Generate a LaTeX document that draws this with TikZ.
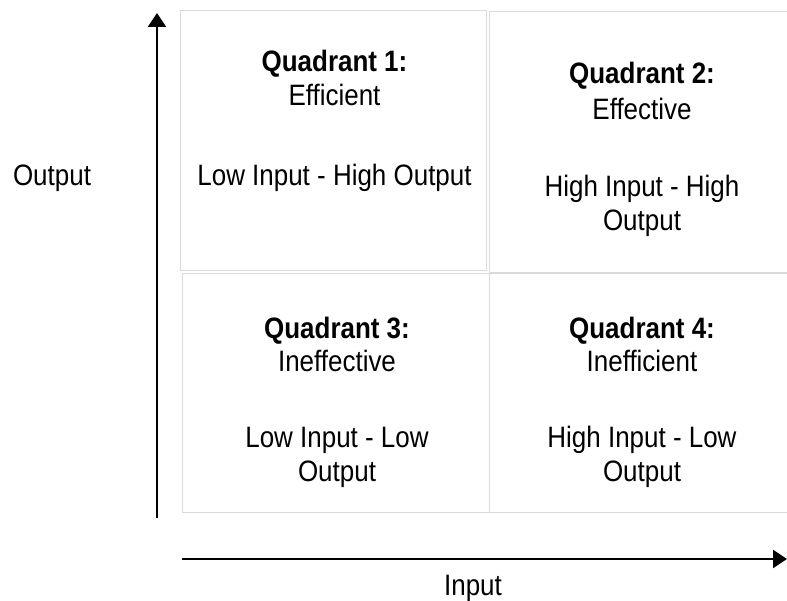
\documentclass[tikz,border=0pt]{standalone}
\usepackage{fontspec}
\setmainfont[FakeStretch=0.88]{Liberation Sans}
\usetikzlibrary{arrows.meta}
\begin{document}
\begin{tikzpicture}[x=1bp,y=-1bp,
  quad/.style={draw=black!15,line width=0.8bp,rectangle,inner sep=0pt},
  txt/.style={anchor=base,inner sep=0pt,font=\fontsize{29.5bp}{34bp}\selectfont},
  ttl/.style={txt,font=\fontsize{29.5bp}{34bp}\selectfont\bfseries},
  axis/.style={line width=2bp,-{Triangle[length=14bp,width=18bp]}}]
\useasboundingbox (0,0) rectangle (787,601);
% quadrant boxes
\node[quad,minimum width=306bp,minimum height=260bp] (q1) at (333,140) {};
\node[quad,minimum width=306bp,minimum height=261bp] (q2) at (642,141.5) {};
\node[quad,minimum width=307bp,minimum height=239bp] (q3) at (335.5,392.5) {};
\node[quad,minimum width=306bp,minimum height=239bp] (q4) at (642,392.5) {};
% quadrant 1
\node[ttl] (q1t) at (334.5,72) {Quadrant 1:};
\node[txt] (q1s) at (334.5,106) {Efficient};
\node[txt] (q1d) at (334.5,186) {Low Input - High Output};
% quadrant 2
\node[ttl] (q2t) at (642,84) {Quadrant 2:};
\node[txt] (q2s) at (642,120) {Effective};
\node[txt] (q2d) at (642,197) {High Input - High};
\node[txt] (q2e) at (642,230.5) {Output};
% quadrant 3
\node[ttl] (q3t) at (337,338.5) {Quadrant 3:};
\node[txt] (q3s) at (337,371.5) {Ineffective};
\node[txt] (q3d) at (337,447.5) {Low Input - Low};
\node[txt] (q3e) at (337,481.5) {Output};
% quadrant 4
\node[ttl] (q4t) at (642,338.5) {Quadrant 4:};
\node[txt] (q4s) at (642,371.5) {Inefficient};
\node[txt] (q4d) at (642,447.5) {High Input - Low};
\node[txt] (q4e) at (642,481.5) {Output};
% axis labels
\node[txt] (ylab) at (52,185.5) {Output};
\node[txt] (xlab) at (473,595.5) {Input};
% axes
\coordinate (ya) at (157,518);
\coordinate (yb) at (157,13);
\coordinate (xa) at (182,559);
\coordinate (xb) at (787,559);
\draw[axis] (ya) -- (yb);
\draw[axis] (xa) -- (xb);
\end{tikzpicture}
\end{document}
